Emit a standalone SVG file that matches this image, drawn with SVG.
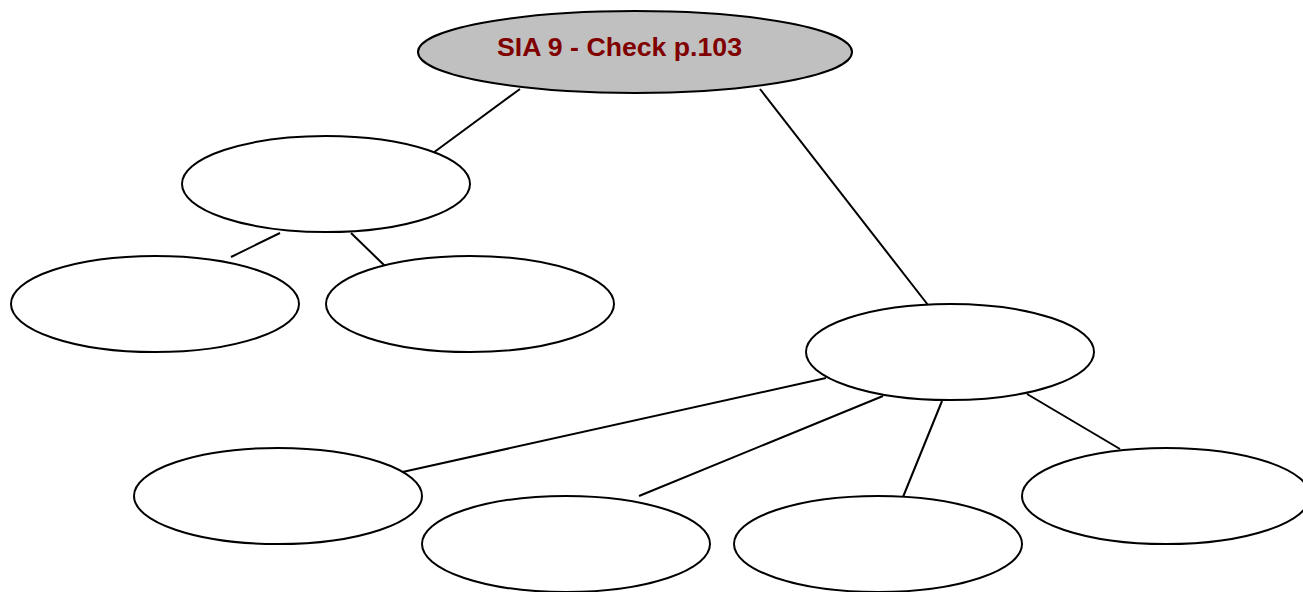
<svg xmlns="http://www.w3.org/2000/svg" width="1303" height="592" viewBox="0 0 1303 592">
  <style>
    .node { fill: #ffffff; stroke: #000000; stroke-width: 2; }
    .root { fill: #c0c0c0; stroke: #000000; stroke-width: 2; }
    .edge { stroke: #000000; stroke-width: 2; fill: none; }
    .title { font-family: "Liberation Sans", Arial, sans-serif; font-weight: bold; font-size: 26px; fill: #800000; }
  </style>
  <rect width="1303" height="592" fill="#ffffff"/>
  <g id="connectors">
    <line class="edge" x1="520" y1="89" x2="433" y2="153"/>
    <line class="edge" x1="760" y1="89" x2="928" y2="305"/>
    <line class="edge" x1="280" y1="233" x2="231" y2="257"/>
    <line class="edge" x1="351" y1="233" x2="385" y2="266"/>
    <line class="edge" x1="826" y1="378" x2="398" y2="473"/>
    <line class="edge" x1="883" y1="396" x2="639" y2="496"/>
    <line class="edge" x1="942" y1="401" x2="903" y2="497"/>
    <line class="edge" x1="1027" y1="394" x2="1120" y2="449"/>
  </g>
  <g id="root">
    <ellipse class="root" cx="635" cy="52" rx="217" ry="41"/>
    <text class="title" x="497" y="56" textLength="245" lengthAdjust="spacingAndGlyphs">SIA 9 - Check p.103</text>
  </g>
  <g id="left-branch"><ellipse class="node" cx="326" cy="184" rx="144" ry="48"/></g>
  <g id="left-leaf-1"><ellipse class="node" cx="155" cy="304" rx="144" ry="48"/></g>
  <g id="left-leaf-2"><ellipse class="node" cx="470" cy="304" rx="144" ry="48"/></g>
  <g id="right-branch"><ellipse class="node" cx="950" cy="352" rx="144" ry="48"/></g>
  <g id="right-leaf-1"><ellipse class="node" cx="278" cy="496" rx="144" ry="48"/></g>
  <g id="right-leaf-2"><ellipse class="node" cx="566" cy="544" rx="144" ry="48"/></g>
  <g id="right-leaf-3"><ellipse class="node" cx="878" cy="544" rx="144" ry="48"/></g>
  <g id="right-leaf-4"><ellipse class="node" cx="1166" cy="496" rx="144" ry="48"/></g>
</svg>
